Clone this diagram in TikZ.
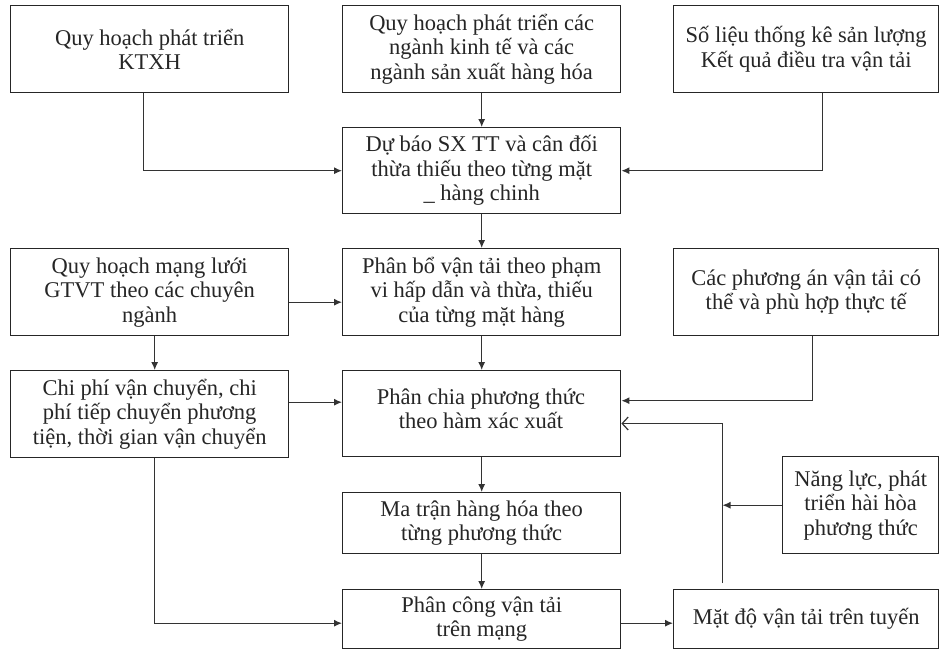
\documentclass[tikz,border=0pt]{standalone}
\usepackage{fontspec}
\setmainfont{Liberation Serif}
\usetikzlibrary{arrows.meta}
\begin{document}
\begin{tikzpicture}[x=1pt,y=-1pt,
  box/.style={draw=black!85, line width=1.4pt, inner sep=0pt, anchor=north west, align=center,
    font=\fontsize{22.5}{24.5}\selectfont, text=black!85},
  txt/.style={inner sep=0pt, align=center, font=\fontsize{22.5}{24.5}\selectfont, text=black!85},
  conn/.style={draw=black!80, line width=1.2pt, -{Latex[length=8pt,width=7pt]}},
  openconn/.style={draw=black!80, line width=1.2pt, -{Straight Barb[length=6pt,width=13pt]}}]
\useasboundingbox (0,0) rectangle (940,651);
\fill[white] (0,0) rectangle (940,651);

\node[box, minimum width=278, minimum height=87] (b1) at (10,5) {Quy hoạch phát triển\\KTXH};
\node[box, minimum width=278, minimum height=87] (b2) at (342,5) {Quy hoạch phát triển các\\ngành kinh tế và các\\ngành sản xuất hàng hóa};
\node[box, minimum width=265, minimum height=87] (b3) at (673,5) {Số liệu thống kê sản lượng\\Kết quả điều tra vận tải};
\node[box, minimum width=278, minimum height=86] (b4) at (342,127) {Dự báo SX TT và cân đối\\thừa thiếu theo từng mặt\\\_ hàng chinh};
\node[box, minimum width=278, minimum height=87] (b5) at (10,248) {Quy hoạch mạng lưới\\GTVT theo các chuyên\\ngành};
\node[box, minimum width=278, minimum height=87] (b6) at (342,248) {Phân bổ vận tải theo phạm\\vi hấp dẫn và thừa, thiếu\\của từng mặt hàng};
\node[box, minimum width=265, minimum height=87] (b7) at (673,248) {Các phương án vận tải có\\thể và phù hợp thực tế};
\node[box, minimum width=278, minimum height=87] (b8) at (10,370) {Chi phí vận chuyển, chi\\phí tiếp chuyển phương\\tiện, thời gian vận chuyển};
\node[box, minimum width=278, minimum height=86] (b9) at (342,370) {};
\node[txt] (t9) at (481,409) {Phân chia phương thức\\theo hàm xác xuất};
\node[box, minimum width=278, minimum height=61] (b10) at (342,492) {Ma trận hàng hóa theo\\từng phương thức};
\node[box, minimum width=278, minimum height=59] (b11) at (342,589) {Phân công vận tải\\trên mạng};
\node[box, minimum width=265, minimum height=59] (b12) at (673,589) {Mặt độ vận tải trên tuyến};
\node[box, minimum width=156, minimum height=97] (b13) at (782,456) {Năng lực, phát\\triển hài hòa\\phương thức};

\coordinate (turn) at (722.5,423.5);

\draw[conn] ([xshift=-6]b1.south) |- (b4.west);
\draw[conn] (b2.south) -- (b4.north);
\draw[conn] ([xshift=16]b3.south) |- (b4.east);
\draw[conn] (b4.south) -- (b6.north);
\draw[conn] ([yshift=-10]b5.east) -- ([yshift=-10]b6.west);
\draw[conn] ([xshift=5]b5.south) -- ([xshift=5]b8.north);
\draw[conn] (b6.south) -- (b9.north);
\draw[conn] ([xshift=6]b7.south) |- ([yshift=13]b9.east);
\draw[openconn] ([yshift=6]b12.north -| turn) -- (turn) -- (turn -| b9.east);
\draw[conn] (b13.west) -- (b13.west -| turn);
\draw[conn] ([yshift=12]b8.east) -- ([yshift=12]b8.east -| b9.west);
\draw[conn] ([xshift=5]b8.south) |- ([yshift=-4]b11.west);
\draw[conn] (b9.south) -- (b10.north);
\draw[conn] (b10.south) -- (b11.north);
\draw[conn] ([yshift=-4]b11.east) -- ([yshift=-4]b12.west);
\end{tikzpicture}
\end{document}
